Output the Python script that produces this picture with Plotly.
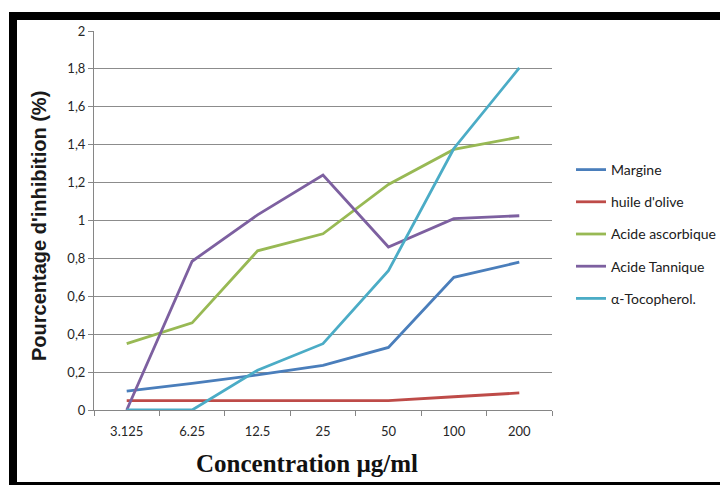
import plotly.graph_objects as go

# Concentrations tested (µg/ml), shown as evenly spaced categories
concentrations = ["3.125", "6.25", "12.5", "25", "50", "100", "200"]

# Inhibition percentage for each extract / reference compound
margine = [0.10, 0.14, 0.185, 0.235, 0.33, 0.70, 0.78]
huile_olive = [0.05, 0.05, 0.05, 0.05, 0.05, 0.07, 0.09]
acide_ascorbique = [0.35, 0.46, 0.84, 0.93, 1.19, 1.375, 1.44]
acide_tannique = [0.0, 0.785, 1.03, 1.24, 0.86, 1.01, 1.025]
tocopherol = [0.0, 0.0, 0.21, 0.35, 0.735, 1.38, 1.805]

series_names = ["Margine", "huile d'olive", "Acide ascorbique", "Acide Tannique", "α-Tocopherol."]
series_values = [margine, huile_olive, acide_ascorbique, acide_tannique, tocopherol]
series_colors = ["#4A7EBB", "#BE4B48", "#98B954", "#7D60A0", "#4BACC6"]

y_tick_values = [0, 0.2, 0.4, 0.6, 0.8, 1, 1.2, 1.4, 1.6, 1.8, 2]
y_tick_labels = ["0", "0,2", "0,4", "0,6", "0,8", "1", "1,2", "1,4", "1,6", "1,8", "2"]

W, H = 720, 485
L, R, T, B = 94, 552, 31, 410  # plot area in pixels


def px_x(px):
    return (px - L) / (R - L)


def px_y(py):
    return (B - py) / (B - T)


fig = go.Figure()
for i, (name, vals, col) in enumerate(zip(series_names, series_values, series_colors)):
    fig.add_trace(go.Scatter(
        x=concentrations, y=vals, name=name, mode="lines",
        line=dict(color=col, width=2.8),
        legendgroup=f"g{i}",
    ))

tick_font = dict(family="Lato, Liberation Sans, sans-serif", size=13, color="#262626")

fig.update_layout(
    width=W, height=H,
    margin=dict(l=L, r=W - R, t=T, b=H - B, autoexpand=False),
    paper_bgcolor="white", plot_bgcolor="white",
    showlegend=True,
    legend=dict(
        x=px_x(571), y=px_y(154), xanchor="left", yanchor="top",
        font=dict(family="Lato, Liberation Sans, sans-serif", size=14, color="#202020"),
        traceorder="grouped", tracegroupgap=11,
        bgcolor="rgba(0,0,0,0)", itemwidth=30,
    ),
    xaxis=dict(
        type="category", range=[-0.5, 6.5],
        showline=True, linecolor="#868686", linewidth=1,
        ticks="outside", ticklen=5, tickcolor="#868686", tickson="boundaries",
        ticklabelstandoff=9,
        showgrid=False, tickfont=tick_font, fixedrange=True,
    ),
    yaxis=dict(
        range=[0, 2], tickvals=y_tick_values, ticktext=y_tick_labels,
        showline=True, linecolor="#868686", linewidth=1,
        ticks="outside", ticklen=5, tickcolor="#868686",
        showgrid=True, gridcolor="#8c8c8c", gridwidth=1,
        zeroline=False, tickfont=tick_font, fixedrange=True,
    ),
    annotations=[
        dict(text="<b>Concentration µg/ml</b>", xref="paper", yref="paper",
             x=px_x(307), y=px_y(463), xanchor="center", yanchor="middle", showarrow=False,
             font=dict(family="Liberation Serif, Times New Roman, serif", size=25, color="#111")),
        dict(text="<b>Pourcentage d'inhibition (%)</b>", xref="paper", yref="paper",
             x=px_x(39), y=px_y(226), xanchor="center", yanchor="middle", showarrow=False,
             textangle=-90,
             font=dict(family="Liberation Sans, Arial, sans-serif", size=20, color="#1a1a1a")),
    ],
    shapes=[
        # black frame around the figure
        dict(type="rect", xref="paper", yref="paper", x0=px_x(9), x1=px_x(722), y0=px_y(20), y1=px_y(12),
             fillcolor="black", line=dict(width=0), layer="above"),
        dict(type="rect", xref="paper", yref="paper", x0=px_x(9), x1=px_x(17), y0=px_y(487), y1=px_y(12),
             fillcolor="black", line=dict(width=0), layer="above"),
        dict(type="rect", xref="paper", yref="paper", x0=px_x(9), x1=px_x(722), y0=px_y(487), y1=px_y(482),
             fillcolor="black", line=dict(width=0), layer="above"),
    ],
)

fig.write_html("out.html")
